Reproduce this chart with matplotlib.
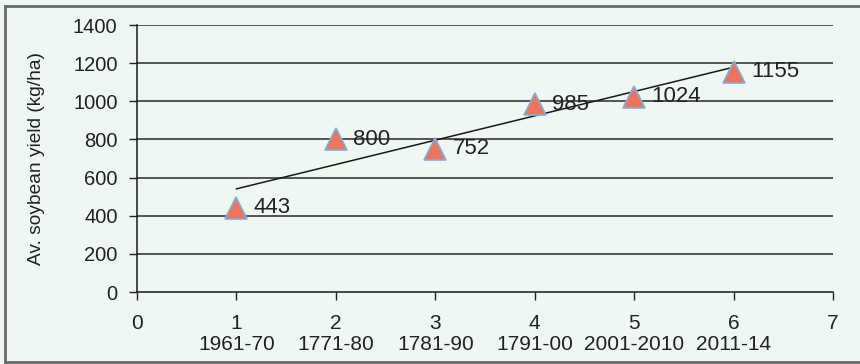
import matplotlib
matplotlib.use("Agg")
import matplotlib.pyplot as plt
import numpy as np
from matplotlib.lines import Line2D

plt.rcParams['font.family'] = ['Liberation Sans', 'DejaVu Sans']

x_pos = [1, 2, 3, 4, 5, 6]
periods = ["1961-70", "1771-80", "1781-90", "1791-00", "2001-2010", "2011-14"]
yields = [443, 800, 752, 985, 1024, 1155]
y_ticks = [0, 200, 400, 600, 800, 1000, 1200, 1400]
x_ticks = [0, 1, 2, 3, 4, 5, 6, 7]

bg = "#eef7f2"
fig = plt.figure(figsize=(8.6, 3.64), dpi=100, facecolor=bg)
ax = fig.add_axes([137/860, 1-292/364, (833-137)/860, (292-25)/364])
ax.set_facecolor(bg)

# gridlines
for v in y_ticks[1:]:
    ax.axhline(v, color="#2a2a2a", lw=1.1, zorder=1)

# trend line
coef = np.polyfit(x_pos, yields, 1)
xt = np.array([x_pos[0], x_pos[-1]])
ax.plot(xt, np.polyval(coef, xt), color="#1a1a1a", lw=1.1, zorder=2)

ax.plot(x_pos, yields, linestyle="none", marker="^", markersize=15.5,
        markerfacecolor="#f0735a", markeredgecolor="#80b0e0", markeredgewidth=1.2, zorder=3)

for xv, yv in zip(x_pos, yields):
    ax.annotate(str(yv), (xv, yv), xytext=(12.5, 0), textcoords="offset points",
                ha="left", va="center", fontsize=16, color="#222222", zorder=4)

ax.set_xlim(0, 7)
ax.set_ylim(0, 1400)
ax.set_yticks(y_ticks)
ax.set_yticklabels([str(v) for v in y_ticks])
labels = []
for t in x_ticks:
    if t in x_pos:
        labels.append(f"{t}\n{periods[x_pos.index(t)]}")
    else:
        labels.append(f"{t}")
ax.set_xticks(x_ticks)
ax.set_xticklabels(labels, va="top", linespacing=1.1)

ax.tick_params(axis="both", colors="#222222", length=6, width=1, direction="out")
ax.tick_params(axis="x", pad=10, labelsize=15)
ax.tick_params(axis="y", pad=8, labelsize=14.5)
for s in ["top", "right"]:
    ax.spines[s].set_visible(False)
for s in ["left", "bottom"]:
    ax.spines[s].set_color("#1a1a1a")
    ax.spines[s].set_linewidth(1.1)

ax.set_ylabel("Av. soybean yield (kg/ha)", fontsize=13.8, color="#222222")
ax.yaxis.set_label_coords(-(137-45)/696, 0.5)

# figure border (left, top, bottom)
bc = "#6a6a6a"
fig.add_artist(Line2D([5/860, 5/860], [1-6/364, 1-362/364], transform=fig.transFigure, color=bc, lw=2))
fig.add_artist(Line2D([5/860, 1], [1-6/364, 1-6/364], transform=fig.transFigure, color=bc, lw=2))
fig.add_artist(Line2D([5/860, 1], [1-362/364, 1-362/364], transform=fig.transFigure, color=bc, lw=2))

fig.savefig("out.png", dpi=100, facecolor=bg)
